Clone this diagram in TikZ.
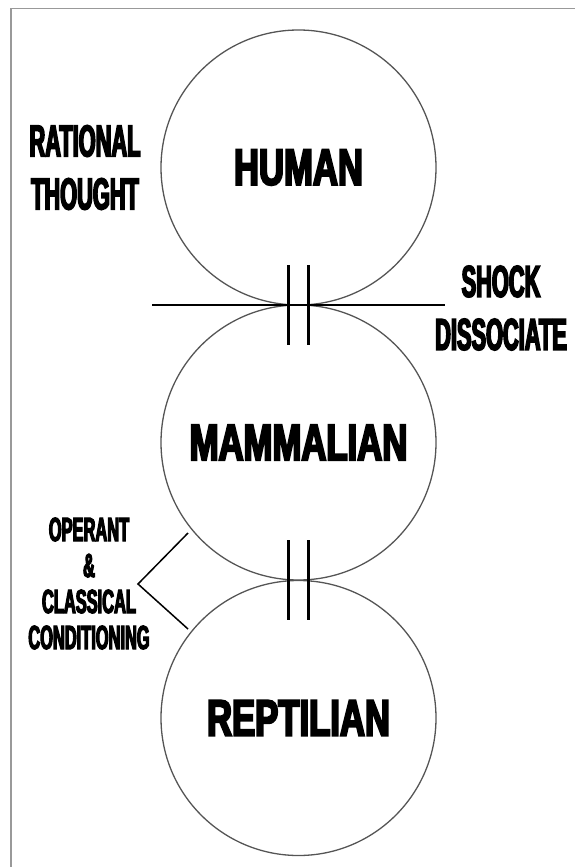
\documentclass[tikz,border=0pt]{standalone}
\usepackage{fontspec}
\usetikzlibrary{calc}
\newfontfamily\bigfont{Liberation Sans Bold}[FakeStretch=0.68,FakeBold=4]
\newfontfamily\smallfont{Liberation Sans Bold}[FakeStretch=0.49,FakeBold=3.5]
\definecolor{framecol}{HTML}{999999}
\definecolor{circlecol}{HTML}{555555}
\begin{document}
\begin{tikzpicture}[x=1pt,y=-1pt,
  brain/.style={circle, draw=circlecol, line width=1.3pt, minimum size=275pt,
    inner sep=0pt, outer sep=0pt, font=\bigfont\fontsize{51}{60}\selectfont},
  sidetext/.style={inner sep=0pt, outer sep=0pt, align=center},
  bigside/.style={sidetext, font=\smallfont\fontsize{44.5}{53}\selectfont},
  smallside/.style={sidetext, font=\smallfont\fontsize{33.5}{36}\selectfont},
  thinline/.style={black, line width=1.2pt},
  bracketline/.style={black, line width=1.5pt},
  barline/.style={black, line width=3pt}]
\useasboundingbox (0,0) rectangle (575,867);
\draw[framecol, line width=1.2pt] (11,867) -- (11,8.5) -- (575,8.5);

\node[brain] (human) at (298.5,167.5) {HUMAN};
\node[brain] (mammal) at (298.5,442.5) {MAMMALIAN};
\node[brain] (reptile) at (298.5,718) {REPTILIAN};

% tangent line between human and mammalian
\coordinate (tl) at (152,305);
\coordinate (tr) at (445,305);
\draw[thinline] (tl) -- (tr);

% double bars
\draw[barline] ($(human.south)+(-10,-40)$) coordinate (b1t) -- ($(human.south)+(-10,40)$) coordinate (b1b);
\draw[barline] ($(human.south)+(10,-40)$) coordinate (b2t) -- ($(human.south)+(10,40)$) coordinate (b2b);
\draw[barline] ($(mammal.south)+(-10,-40)$) coordinate (b3t) -- ($(mammal.south)+(-10,40)$) coordinate (b3b);
\draw[barline] ($(mammal.south)+(10,-40)$) coordinate (b4t) -- ($(mammal.south)+(10,40)$) coordinate (b4b);

% bracket
\coordinate (bu) at (188,533);
\coordinate (bv) at (138,584);
\coordinate (bl) at (188,629);
\draw[bracketline] (bu) -- (bv) -- (bl);

% side labels
\node[bigside] (rational) at (85,167.5) {RATIONAL\\THOUGHT};
\node[bigside] (shock) at (501,308) {SHOCK\\DISSOCIATE};
\node[smallside] (cond) at (89,583.5) {OPERANT\\\&\\CLASSICAL\\CONDITIONING};
\end{tikzpicture}
\end{document}
